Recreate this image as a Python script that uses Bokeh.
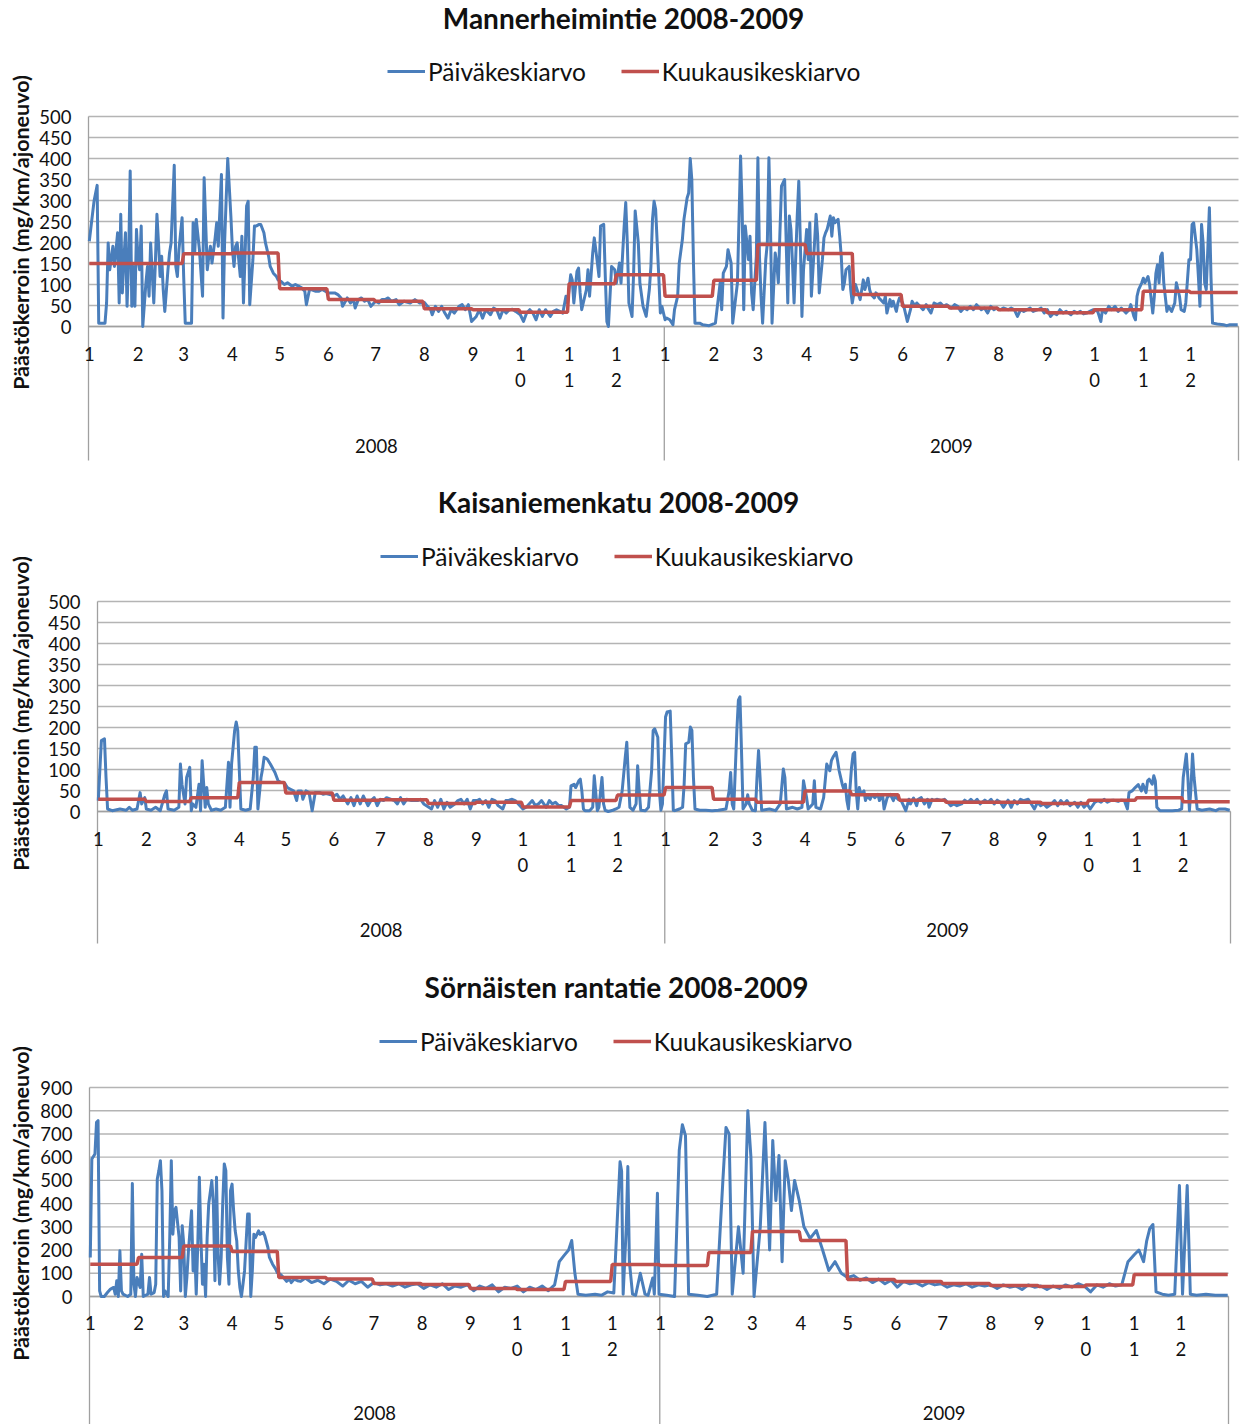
import math
from bokeh.plotting import figure
from bokeh.models import Range1d, Legend, LegendItem
from bokeh.core.properties import value
from bokeh.embed import file_html
from bokeh.resources import INLINE

FONT = "Lato"
BLUE = "#4A7EBB"
RED = "#C0504D"
GRID = "#B4B4B4"
AXIS = "#A0A0A0"
TXT = "#111111"

MONTH_LABELS = ["1", "2", "3", "4", "5", "6", "7", "8", "9", "10", "11", "12"] * 2
DAYS_PER_MONTH = [31, 29, 31, 30, 31, 30, 31, 31, 30, 31, 30, 31,
                  31, 28, 31, 30, 31, 30, 31, 31, 30, 31, 30, 31]
YEAR_LABELS = ["2008", "2009"]
SERIES_LABELS = ["Päiväkeskiarvo", "Kuukausikeskiarvo"]
Y_LABEL = "Päästökerroin (mg/km/ajoneuvo)"
TITLES = ["Mannerheimintie 2008-2009", "Kaisaniemenkatu 2008-2009", "Sörnäisten rantatie 2008-2009"]

# ---- Mannerheimintie: daily values (day index, value) ----
mann_daily = [
    (0,203),(3,298),(5,336),(6,8),(10,8),(11,56),(12,199),(13,135),(15,191),(16,143),(18,223),(19,56),(20,267),
    (21,80),(22,160),(23,223),(24,48),(25,160),(26,370),(27,48),(28,143),(29,48),(30,231),(31,160),(32,135),
    (33,239),(34,0),(36,104),(37,143),(38,72),(39,199),(41,56),(42,151),(43,267),(44,199),(45,119),(46,167),
    (47,88),(48,36),(50,135),(51,175),(52,199),(54,384),(55,143),(56,119),(57,183),(59,259),(60,119),(61,8),
    (63,8),(65,8),(66,247),(67,175),(68,255),(70,183),(72,72),(73,354),(75,135),(76,167),(77,191),(78,151),
    (80,211),(81,247),(82,191),(84,362),(85,20),(86,199),(87,302),(88,400),(90,263),(91,183),(92,143),(93,191),
    (94,199),(96,119),(97,215),(98,56),(99,167),(100,287),(101,298),(102,52),(104,159),(105,239),(106,239),
    (108,243),(109,243),(111,223),(112,199),(114,167),(115,143),(117,127),(119,119),(120,111),(122,107),
    (124,100),(126,104),(129,96),(131,100),(133,96),(135,92),(137,84),(138,52),(140,88),(141,88),(144,84),
    (146,84),(148,88),(150,84),(152,80),(154,80),(156,80),(158,76),(160,68),(161,48),(164,68),(166,56),
    (168,64),(169,44),(171,64),(173,68),(175,60),(177,64),(179,48),(182,60),(184,56),(186,64),(188,64),
    (190,68),(192,60),(195,64),(197,52),(200,60),(204,56),(207,64),(210,56),(213,57),(215,48),(217,40),
    (218,28),(220,48),(222,36),(224,48),(226,32),(228,20),(230,40),(232,32),(235,48),(237,52),(239,40),
    (241,52),(243,12),
    (246,24),(248,40),(250,20),(252,40),(255,28),(257,44),(259,40),(261,20),(263,40),(265,32),(267,40),
    (269,41),(271,36),(274,28),(276,12),(278,32),(280,40),(282,32),(284,16),(286,40),(288,24),(290,40),
    (293,24),(295,36),(297,40),(299,36),(301,32),(303,72),(304,56),(306,123),(307,111),(308,56),(310,131),
    (311,139),(312,80),(313,40),(315,72),(316,88),(317,135),(318,72),(320,175),(321,211),(323,151),(324,119),
    (325,239),(327,243),(328,119),(329,12),(330,0),(331,72),(332,143),(334,135),(335,103),(337,151),(338,103),
    (340,239),(341,295),(342,199),(343,56),(345,24),(346,127),(347,275),(349,199),(350,103),(352,48),(354,24),
    (356,88),(357,143),(358,255),(359,298),(360,279),(362,119),(363,32),(364,48),(366,16),(367,20),(369,16),
    (371,4),(372,40),(374,72),(375,151),(377,207),(378,255),(380,306),(381,318),(382,400),(383,350),(384,159),
    (385,8),(388,8),(390,4),(394,2),(398,8),(399,40),(401,104),(402,40),(403,127),(405,143),(406,183),
    (408,151),(409,8),(410,40),(412,104),(413,255),(414,406),(415,279),(416,40),(417,239),(419,159),(420,215),
    (421,80),(422,40),(424,167),(425,402),(426,167),(427,72),(428,8),(430,159),(431,199),(432,402),(433,239),
    (434,8),(436,175),(437,151),(438,104),(439,223),(440,334),(442,350),(443,199),(444,56),(445,263),
    (446,231),(447,151),(448,56),(450,263),(451,346),(452,199),(453,24),(454,135),(456,231),(457,159),
    (458,247),(459,72),(461,199),(462,267),(463,215),(464,80),(466,159),(467,211),(468,223),(469,231),
    (471,263),(472,215),(473,259),(474,247),(476,255),(477,215),(478,167),(479,88),(480,104),(481,135),
    (483,143),(484,88),(485,56),
    (487,100),(488,88),(490,64),(492,111),(493,88),(495,115),(496,88),(497,76),(499,68),(500,80),(501,76),
    (502,68),(505,56),(506,72),(507,32),(509,64),(510,48),(511,60),(513,36),(514,56),(515,68),(517,56),
    (518,44),(520,12),(522,40),(523,60),(525,48),(526,56),(528,48),(530,40),(532,52),(533,44),(535,32),
    (537,56),(539,52),(541,56),(543,48),(545,52),(548,44),(550,52),(552,48),(554,36),(556,44),(558,40),
    (560,48),(562,40),(564,52),(567,40),(569,44),(571,32),(573,48),(575,40),(577,44),(579,40),(581,44),
    (584,40),(586,44),(588,40),(590,24),(592,40),(594,36),(596,40),(598,44),(600,36),(603,40),(605,44),
    (607,32),(609,40),(611,24),(613,32),(615,28),(617,40),(619,32),(621,36),(624,28),(626,36),(628,32),
    (630,36),(632,30),(634,32),(636,36),(638,40),(641,36),(643,12),(644,40),(646,32),(648,48),(650,40),
    (652,48),(654,36),(656,44),(659,32),(661,40),(662,52),(664,24),(665,16),(666,72),(667,88),(669,104),
    (670,115),(671,104),(673,119),(674,99),(676,32),(677,72),(678,127),(679,147),(680,104),(681,167),
    (682,175),(683,104),(685,36),(686,48),(688,36),(690,56),(691,104),(693,72),(694,40),(696,36),(697,56),
    (699,159),(700,159),(701,243),(702,247),(704,183),(705,119),(706,48),(707,243),(708,199),(709,104),
    (710,88),(712,283),(713,119),(714,8),(717,6),(721,4),(723,2),(725,4),(730,4),
]
mann_monthly = [150, 150, 173, 175, 90, 64, 60, 42, 40, 34, 102, 123,
                72, 110, 195, 174, 76, 48, 44, 40, 33, 40, 84, 81]

# ---- Kaisaniemenkatu ----
kais_daily = [
    (0,26),(2,169),(4,173),(5,81),(6,6),(9,2),(14,6),(18,3),(20,10),(22,3),(25,6),(27,45),(28,18),(30,33),
    (31,6),(34,3),(37,10),(40,2),(43,41),(44,49),(45,6),(49,3),(52,10),(53,113),(54,65),(56,18),(57,81),
    (59,105),(60,2),(61,18),(63,10),(65,65),(66,2),(67,121),(69,10),(70,57),(71,18),(73,3),(76,6),(79,3),
    (82,10),(84,117),(85,10),(86,113),(88,193),(89,213),(90,193),(91,97),(92,6),(95,3),(98,6),(100,81),
    (101,153),(102,153),(103,6),(105,81),(106,101),(107,129),(109,125),(111,113),(114,93),(116,73),(118,69),
    (120,69),(122,57),(124,53),(126,49),(128,26),(129,49),(131,49),(132,29),(134,49),(136,45),(138,2),
    (140,45),(143,45),(145,41),(147,43),(150,40),(152,37),(154,41),(156,29),(158,37),(161,18),(163,33),
    (165,14),(167,37),(169,18),(171,37),(174,14),(176,26),(178,33),(180,14),(182,29),(184,26),(186,33),
    (189,29),(191,26),(193,18),(195,33),(197,18),(199,29),(202,26),(204,26),(206,26),(208,29),(210,18),
    (215,6),(217,26),(219,10),(221,29),(223,6),(225,22),(227,10),(230,18),(232,26),(234,29),(236,18),
    (238,29),(240,6),(242,26),(245,27),
    (246,29),(248,18),(250,26),(252,10),(254,29),(256,26),(258,14),(261,6),(263,26),(265,27),(267,29),
    (269,26),(271,18),(274,6),(276,10),(278,18),(280,26),(282,14),(284,18),(286,26),(289,10),(291,26),
    (293,18),(295,22),(297,14),(299,14),(302,6),(304,10),(305,61),(307,65),(308,57),(310,73),(311,77),
    (312,49),(313,6),(314,2),(317,2),(319,10),(320,85),(322,2),(323,10),(325,81),(326,18),(327,3),(329,0),
    (332,3),(334,6),(336,10),(338,49),(340,129),(341,165),(342,81),(343,10),(345,3),(347,18),(348,109),
    (349,49),(350,3),(353,2),(355,10),(357,97),(358,193),(359,197),(361,177),(362,49),(363,3),(364,18),
    (366,225),(367,237),(369,239),(370,129),(371,3),(372,2),(375,6),(377,10),(378,65),(379,161),(381,165),
    (382,201),(383,193),(384,81),(385,6),(388,3),(392,3),(396,2),(400,3),(405,6),(407,49),(408,93),(409,18),
    (410,6),(412,193),(413,265),(414,273),(415,145),(416,6),(418,18),(419,40),(420,18),(422,3),(424,2),
    (425,81),(426,145),(427,81),(428,3),(433,6),(437,2),(440,18),(442,101),(443,81),(444,6),(448,10),
    (451,6),(454,10),(455,73),(457,33),(458,6),(461,18),(462,73),(463,10),(466,6),(468,33),(470,113),
    (472,97),(473,121),(474,129),(476,141),(477,121),(478,97),(480,65),(481,53),(482,65),(483,26),(484,6),
    (486,105),(487,137),(488,141),(489,49),(490,6),
    (491,57),(492,41),(494,49),(495,26),(496,37),(498,29),(499,40),(501,33),(503,41),(504,26),(506,40),
    (507,6),(509,33),(511,41),(513,26),(514,37),(516,29),(518,26),(519,18),(521,2),(523,29),(524,18),
    (526,32),(528,14),(529,29),(531,33),(533,18),(535,29),(536,10),(538,29),(539,26),(541,29),(544,26),
    (546,29),(548,22),(550,14),(552,18),(554,14),(557,18),(559,27),(561,22),(563,29),(565,22),(567,29),
    (569,18),(572,27),(574,22),(576,29),(578,18),(580,27),(582,22),(584,10),(587,27),(589,10),(591,26),
    (593,18),(595,29),(597,26),(600,29),(602,18),(604,6),(606,22),(608,14),(610,18),(612,10),(615,18),
    (617,26),(619,14),(621,26),(623,18),(625,26),(627,14),(630,22),(632,10),(634,22),(636,10),(638,18),
    (640,6),(643,22),(645,26),(647,22),(649,29),(651,22),(653,26),(655,27),(658,24),(660,27),(662,26),
    (664,6),(665,45),(667,49),(669,57),(671,64),(673,49),(674,65),(676,45),(677,73),(678,77),(680,65),
    (681,85),(682,73),(683,10),(685,2),(689,2),(693,2),(697,3),(699,6),(700,81),(702,137),(703,81),(704,2),
    (705,57),(706,137),(707,81),(709,6),(712,3),(717,6),(721,2),(723,6),(727,6),(730,3),
]
kais_monthly = [29, 24, 33, 69, 44, 27, 28, 19, 22, 11, 26, 39,
                57, 29, 22, 49, 40, 27, 22, 22, 19, 27, 33, 23]

# ---- Sörnäisten rantatie ----
sorn_daily = [
    (0,168),(1,592),(3,614),(4,750),(5,757),(6,24),(7,0),(9,0),(11,17),(13,32),(15,39),(16,10),(17,68),
    (18,0),(19,197),(20,24),(21,10),(24,0),(26,10),(27,487),(28,53),(29,0),(30,82),(32,39),(33,182),(34,0),
    (37,10),(38,82),(39,10),(41,17),(42,53),(43,506),(44,542),(45,585),(46,456),(47,0),(48,24),(50,0),
    (51,254),(52,585),(53,268),(54,369),(55,384),(57,255),(58,24),(59,305),(60,225),(61,0),(62,82),(63,197),
    (65,369),(66,110),(67,211),(68,10),(69,225),(70,513),(71,254),(72,53),(73,139),(74,0),(75,254),(76,398),
    (78,499),(79,398),(80,68),(81,513),(82,182),(83,53),(84,168),(85,400),(86,571),(87,542),(88,168),(89,53),
    (90,456),(91,484),(92,369),(93,283),(94,240),(95,110),(96,39),(97,0),(98,53),(99,110),(101,355),(102,355),
    (103,0),(104,110),(105,268),(106,254),(108,283),(109,268),(111,276),(112,261),(114,211),(115,168),
    (117,139),(119,118),(120,103),(122,96),(124,82),(126,65),(128,75),(129,60),(131,75),(133,68),(135,65),
    (138,80),(142,60),(146,70),(150,55),(154,75),(158,65),(162,45),(166,70),(170,55),(174,65),(178,40),
    (182,60),(186,50),(190,55),(194,45),(198,55),(202,40),(206,50),(210,55),(214,35),(218,50),(222,40),
    (226,55),(230,30),(234,45),(238,40),(242,50),(246,25),(250,45),(254,35),(258,50),(262,20),(266,40),
    (270,35),(274,45),(278,20),(282,40),(286,30),(290,45),(294,25),(298,50),(301,150),(304,176),(307,200),
    (309,241),(311,100),(313,10),(318,5),(324,10),(328,5),(332,20),(336,15),(338,300),(340,580),(341,540),
    (342,10),(344,300),(345,560),(346,150),(348,10),(350,5),(353,100),(356,10),(358,5),(361,80),(362,10),
    (364,445),(365,10),(370,5),(375,0),
    (378,630),(380,740),(382,693),(384,10),(390,5),(396,0),(402,10),(406,500),(408,728),(410,700),(412,10),
    (416,300),(419,100),(422,800),(424,600),(426,0),(430,300),(433,749),(436,200),(438,672),(440,413),
    (442,607),(444,150),(446,585),(448,500),(450,370),(452,500),(455,413),(458,300),(462,250),(466,284),
    (470,200),(474,112),(478,150),(482,100),(486,82),(490,90),(494,70),(498,80),(502,60),(506,75),(510,55),
    (514,70),(518,40),(522,65),(526,55),(530,60),(534,45),(538,60),(542,50),(546,55),(550,40),(554,50),
    (558,45),(562,55),(566,40),(570,50),(574,45),(578,50),(582,35),(586,50),(590,40),(594,45),(598,30),
    (602,50),(606,40),(610,45),(614,30),(618,45),(622,35),(626,50),(630,40),(634,55),(638,45),(642,20),
    (646,50),(650,40),(654,55),(658,45),(662,50),(666,150),(670,180),(673,200),(676,150),(678,240),(680,293),
    (682,310),(684,20),(688,10),(692,5),(696,10),(699,478),(701,10),(704,478),(706,10),(710,5),(716,10),
    (722,5),(730,5),
]
sorn_monthly = [139, 168, 218, 194, 82, 75, 56, 52, 34, 30, 65, 138,
                133, 190, 280, 241, 73, 65, 56, 47, 43, 50, 95, 95]

month_starts = []
acc = 0
for d in DAYS_PER_MONTH:
    month_starts.append(acc)
    acc += d
N_DAYS = acc
year_bounds = [-0.5, month_starts[12] - 0.5, N_DAYS - 0.5]
year_centers = [(month_starts[12] - 1) / 2.0, (month_starts[12] + N_DAYS - 1) / 2.0]

W = 1240
H = 1424
LEG_ROW = 32
LEG_PAD = 3

p = figure(width=W, height=H, x_range=Range1d(0, 1), y_range=Range1d(0, 1),
           output_backend="svg", toolbar_location=None,
           x_axis_location=None, y_axis_location=None, min_border=0)
p.outline_line_color = None
p.background_fill_color = "white"
p.border_fill_color = "white"
p.xgrid.visible = False
p.ygrid.visible = False


def add_panel(idx, title, daily, monthly, ymax, ystep, L, R, y_top, y_zero,
              title_cx, title_cy, legend_left, legend_cy, month_row1, month_row2,
              year_cy, sep_bottom, ylabel_cy):
    """Layout arguments are pixel positions on the canvas (from its top-left)."""
    s = (R - L) / float(N_DAYS)                  # pixels per day
    k = (y_zero - y_top) / float(ymax)           # pixels per unit
    xr, yr = "x%d" % idx, "y%d" % idx
    p.extra_x_ranges[xr] = Range1d(-0.5 - L / s, N_DAYS - 0.5 + (W - R) / s)
    p.extra_y_ranges[yr] = Range1d(-(H - y_zero) / k, ymax + y_top / k)
    kw = dict(x_range_name=xr, y_range_name=yr)

    def xd(px):
        return -0.5 + (px - L) / s

    def yd(py):
        return (y_zero - py) / k

    ticks = list(range(0, ymax + 1, ystep))
    p.segment(x0=[-0.5] * len(ticks), y0=ticks, x1=[N_DAYS - 0.5] * len(ticks), y1=ticks,
              line_color=GRID, line_width=1.4, **kw)
    yb = yd(sep_bottom)
    p.segment(x0=year_bounds, y0=[yb] * 3, x1=year_bounds, y1=[ymax, 0, 0],
              line_color=AXIS, line_width=1.3, **kw)
    p.segment(x0=[-0.5], y0=[0], x1=[N_DAYS - 0.5], y1=[0], line_color=AXIS, line_width=1.4, **kw)

    pts = sorted(daily)
    dx = [a for a, b in pts]
    dy = [b for a, b in pts]
    mx, my = [], []
    for m, n in enumerate(DAYS_PER_MONTH):
        for i in range(n):
            mx.append(month_starts[m] + i)
            my.append(monthly[m])
    r_blue = p.line(dx, dy, line_color=BLUE, line_width=3, line_join="round", **kw)
    r_red = p.line(mx, my, line_color=RED, line_width=3.5, **kw)

    common = dict(text_font=value(FONT), text_font_size="18.5px", text_color=TXT,
                  text_baseline="middle")
    # y tick labels
    p.text(x=[-0.5] * len(ticks), y=ticks, text=[str(t) for t in ticks], x_offset=-17,
           text_align="right", **common, **kw)
    # category labels (months wrapped one digit per row, as in the original) and years
    row1 = [lab[0] for lab in MONTH_LABELS]
    row2 = [lab[1:] for lab in MONTH_LABELS]
    p.text(x=month_starts, y=[yd(month_row1)] * len(month_starts), text=row1,
           text_align="center", **common, **kw)
    p.text(x=month_starts, y=[yd(month_row2)] * len(month_starts), text=row2,
           text_align="center", **common, **kw)
    p.text(x=year_centers, y=[yd(year_cy)] * 2, text=YEAR_LABELS, text_align="center",
           **common, **kw)

    # axis title
    p.text(x=[xd(20)], y=[yd(ylabel_cy)], text=[Y_LABEL], angle=math.pi / 2,
           text_font=value(FONT), text_font_size="21.5px", text_font_style="bold",
           text_color=TXT, text_align="center", text_baseline="middle", **kw)
    # chart title
    p.text(x=[xd(title_cx)], y=[yd(title_cy)], text=[title], text_font=value(FONT),
           text_font_size="28px", text_font_style="bold", text_color=TXT,
           text_align="center", text_baseline="middle", **kw)

    legend = Legend(items=[LegendItem(label=SERIES_LABELS[0], renderers=[r_blue]),
                           LegendItem(label=SERIES_LABELS[1], renderers=[r_red])],
                    orientation="horizontal",
                    location=(legend_left - LEG_PAD, H - legend_cy - LEG_ROW / 2 - LEG_PAD))
    legend.label_text_font = FONT
    legend.label_text_font_size = "24.5px"
    legend.label_text_color = TXT
    legend.glyph_width = 38
    legend.glyph_height = LEG_ROW
    legend.label_height = LEG_ROW
    legend.label_standoff = 3
    legend.spacing = 35
    legend.padding = LEG_PAD
    legend.margin = 0
    legend.border_line_color = None
    legend.background_fill_alpha = 0
    p.add_layout(legend)


add_panel(1, TITLES[0], mann_daily, mann_monthly, 500, 50, 88, 1238, 116, 326,
          623, 17, 390, 68, 353, 379, 445, 460, 232)
add_panel(2, TITLES[1], kais_daily, kais_monthly, 500, 50, 97, 1230, 601, 811,
          618, 501, 383, 553, 838, 864, 929, 943, 713)
add_panel(3, TITLES[2], sorn_daily, sorn_monthly, 900, 100, 89, 1228, 1087, 1296,
          616, 986, 382, 1038, 1322, 1348, 1412, 1424, 1203)

open("out.html", "w").write(file_html(p, INLINE))
